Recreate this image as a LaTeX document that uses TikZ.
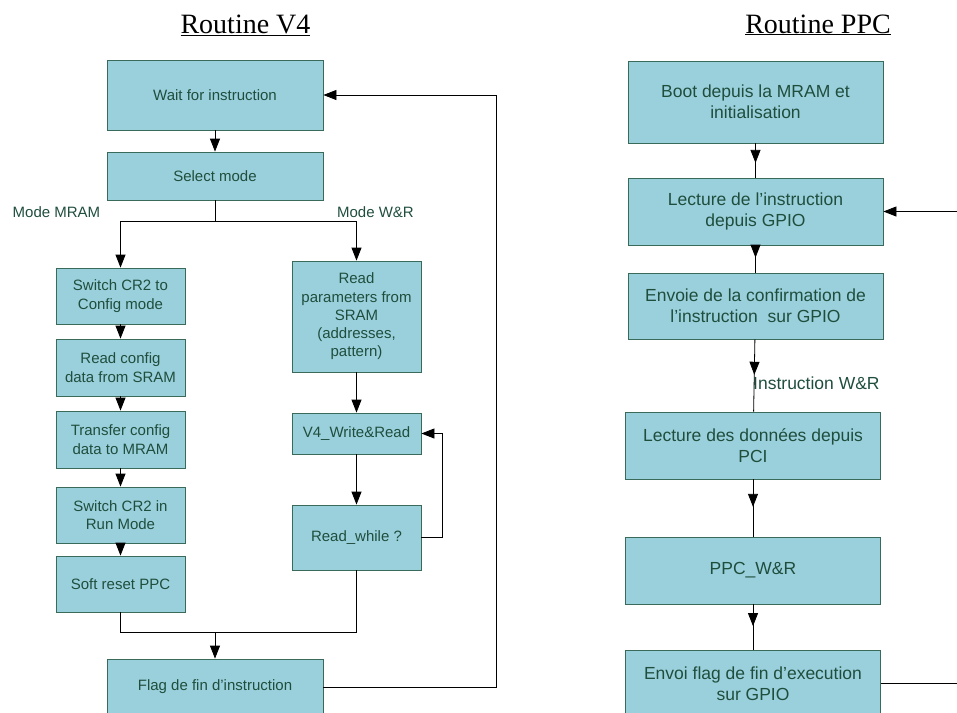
\documentclass[tikz,border=0pt]{standalone}
\usepackage{fontspec}
\setmainfont{Liberation Sans}
\newfontfamily\titlefont{Liberation Serif}
\usepackage{tikz}
\usetikzlibrary{arrows.meta, positioning, calc, decorations.markings}
\definecolor{RT_FILL}{HTML}{9AD0DC}
\definecolor{RT_EDGE}{HTML}{3A6B5A}
\definecolor{RT_TEXT}{HTML}{1F4E3D}
\tikzset{
  v4wide/.style={
    rectangle, inner sep=0pt,
    minimum width=216pt,
    text centered, align=center,
    draw=RT_EDGE, line width=0.8pt, fill=RT_FILL, text=RT_TEXT,
    font=\fontsize{15}{18.3}\selectfont},
  v4box/.style={
    v4wide, minimum width=129pt},
  ppcbox/.style={
    rectangle, inner sep=0pt,
    minimum width=255pt,
    text centered, align=center,
    draw=RT_EDGE, line width=0.8pt, fill=RT_FILL, text=RT_TEXT,
    font=\fontsize{17.5}{20.7}\selectfont},
  lbl/.style={inner sep=0pt, text=RT_TEXT, font=\fontsize{15}{18}\selectfont},
  ppclbl/.style={inner sep=0pt, text=RT_TEXT, font=\fontsize{17.5}{20}\selectfont},
  ttl/.style={inner sep=0pt, font=\titlefont\fontsize{28}{32}\selectfont},
  line/.style={draw=black, line width=0.8pt},
  arr/.style={line, -{Triangle[length=13pt,width=10pt]}},
  midarr/.style={line, postaction={decorate},
    decoration={markings, mark=at position #1 with {\arrow{Triangle[length=13pt,width=10pt]}}}},
}

\begin{document}
\begin{tikzpicture}[x=1pt, y=-1pt]
  \useasboundingbox (0,0) rectangle (957,712);
  \clip (0,0) rectangle (957,712);

  % titres
  \node[ttl, anchor=base] (ttlv4)  at (245.5,33) {\underline{Routine V4}};
  \node[ttl, anchor=base] (ttlppc) at (818,33)   {\underline{Routine PPC}};

  % routine V4
  \node[v4wide, minimum height=70pt] (wait)   at (215,95)  {Wait for instruction};
  \node[v4wide, minimum height=48pt] (select) at (215,176) {Select mode};

  \node[v4box, minimum height=56pt] (cfgmode)  at (120.5,296)   {Switch CR2 to\\Config mode};
  \node[v4box, minimum height=57pt] (readcfg)  at (120.5,367.5) {Read config\\data from SRAM};
  \node[v4box, minimum height=57pt] (transfer) at (120.5,439.5) {Transfer config\\data to MRAM};
  \node[v4box, minimum height=56pt] (runmode)  at (120.5,515)   {Switch CR2 in\\Run Mode};
  \node[v4box, minimum height=56pt] (softrst)  at (120.5,584)   {Soft reset PPC};

  \node[v4box, minimum height=111pt] (readpar) at (356.5,316.5)
    {Read\\parameters from\\SRAM\\(addresses,\\pattern)};
  \node[v4box, minimum height=41pt] (v4wr)    at (356.5,433.5) {V4\_Write\&Read};
  \node[v4box, minimum height=65pt] (rdwhile) at (356.5,537.5) {Read\_while ?};

  \node[v4wide, minimum height=56pt] (flag) at (215,687) {Flag de fin d’instruction};

  \node[lbl] (lblmram) at (56.5,212)  {Mode MRAM};
  \node[lbl] (lblwr)   at (375.5,212) {Mode W\&R};

  \coordinate (split)  at (215,221);
  \coordinate (join)   at (215,632);
  \coordinate (rwback) at (442,433.5);
  \coordinate (v4back) at (496,95);

  \draw[arr]  (wait)     -- (select);
  \draw[line] (select)   -- (split);
  \draw[arr]  (split)    -| (cfgmode);
  \draw[arr]  (split)    -| (readpar);
  \draw[arr]  (cfgmode)  -- (readcfg);
  \draw[arr]  (readcfg)  -- (transfer);
  \draw[arr]  (transfer) -- (runmode);
  \draw[arr]  (runmode)  -- (softrst);
  \draw[arr]  (readpar)  -- (v4wr);
  \draw[arr]  (v4wr)     -- (rdwhile);
  \draw[arr]  (rdwhile)  -| (rwback) -- (v4wr);
  \draw[line] (softrst)  |- (join);
  \draw[line] (rdwhile)  |- (join);
  \draw[arr]  (join)     -- (flag);
  \draw[arr]  (flag)     -| (v4back) -- (wait);

  % routine PPC
  \node[ppcbox, minimum height=82pt] (boot)    at (755.5,102)   {Boot depuis la MRAM et\\initialisation};
  \node[ppcbox, minimum height=67pt] (rdinstr) at (755.5,211.5) {Lecture de l’instruction\\depuis GPIO};
  \node[ppcbox, minimum height=66pt] (confirm) at (755.5,306)   {Envoie de la confirmation de\\l’instruction~ sur GPIO};
  \node[ppcbox, minimum height=67pt] (rddata)  at (753,445.5)   {Lecture des données depuis\\PCI};
  \node[ppcbox, minimum height=67pt] (ppcwr)   at (753,570.5)   {PPC\_W\&R};
  \node[ppcbox, minimum height=67pt] (endflag) at (753,683.5)   {Envoi flag de fin d’execution\\sur GPIO};

  \node[ppclbl, anchor=west] (lblinstr) at (753,383) {Instruction W\&R};

  \coordinate (ppcin)  at (960,211.5);
  \coordinate (ppcout) at (960,683.5);

  \draw[midarr=0.57] (boot)    -- (rdinstr);
  \draw[midarr=0.45] (rdinstr) -- (confirm);
  \draw[midarr=0.49] (confirm) -- (rddata);
  \draw[midarr=0.48] (rddata)  -- (ppcwr);
  \draw[midarr=0.48] (ppcwr)   -- (endflag);
  \draw[arr]  (ppcin)   -- (rdinstr);
  \draw[line] (endflag) -- (ppcout);

\end{tikzpicture}
\end{document}
